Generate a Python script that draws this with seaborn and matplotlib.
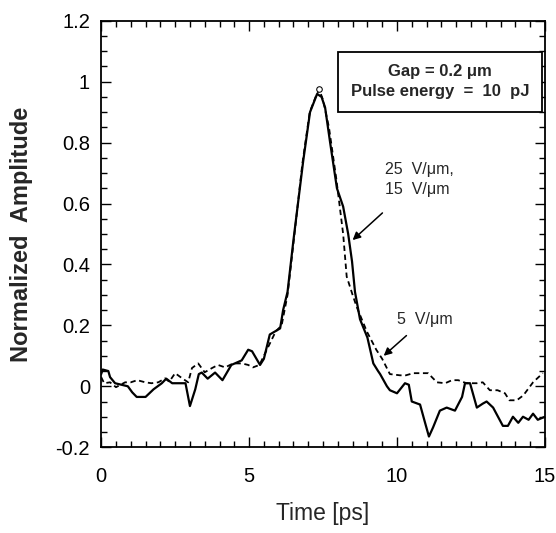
import numpy as np
import pandas as pd
import matplotlib
matplotlib.use("Agg")
import matplotlib.pyplot as plt
from matplotlib.ticker import MultipleLocator
import seaborn as sns

# Solid trace
t_solid = [0.0, 0.05, 0.24, 0.3, 0.47, 0.9, 1.05, 1.2, 1.5, 1.77, 2.05, 2.2, 2.4, 2.6, 2.85,
           3.0, 3.18, 3.3, 3.4, 3.6, 3.85, 4.1, 4.4, 4.75, 4.97, 5.1, 5.37, 5.5, 5.7, 6.05,
           6.15, 6.3, 6.5, 6.83, 7.06, 7.3, 7.45, 7.57, 7.74, 7.97, 8.18, 8.35, 8.48, 8.58, 8.75,
           9.0, 9.2, 9.36, 9.43, 9.66, 9.76, 10.0, 10.27, 10.4, 10.5, 10.78, 10.95, 11.08, 11.22, 11.45,
           11.68, 11.96, 12.2, 12.3, 12.47, 12.7, 12.9, 13.03, 13.25, 13.58, 13.75, 13.92, 14.1, 14.26, 14.45,
           14.6, 14.76, 15.0]
v_solid = [0.04, 0.055, 0.05, 0.03, 0.01, 0.0, -0.02, -0.035, -0.035, -0.01, 0.01, 0.025, 0.01, 0.01, 0.01,
           -0.065, -0.01, 0.04, 0.045, 0.025, 0.045, 0.02, 0.07, 0.085, 0.12, 0.115, 0.07, 0.09, 0.17, 0.19,
           0.25, 0.31, 0.48, 0.74, 0.9, 0.96, 0.95, 0.915, 0.8, 0.65, 0.59, 0.5, 0.41, 0.31, 0.22,
           0.16, 0.075, 0.05, 0.04, 0.0, -0.013, -0.023, 0.01, 0.005, -0.05, -0.06, -0.12, -0.165, -0.135, -0.08,
           -0.07, -0.08, -0.035, 0.01, 0.01, -0.07, -0.057, -0.05, -0.07, -0.13, -0.13, -0.1, -0.12, -0.1, -0.11,
           -0.09, -0.11, -0.1]

# Dashed trace
t_dash = [0.0, 0.1, 0.3, 0.5, 0.81, 1.0, 1.22, 1.49, 1.7, 1.93, 2.16, 2.3, 2.5, 2.74, 2.94,
          3.07, 3.28, 3.5, 3.75, 3.95, 4.19, 4.46, 4.76, 4.97, 5.13, 5.35, 5.6, 5.9, 6.1, 6.3,
          6.5, 6.8, 7.05, 7.25, 7.37, 7.5, 7.7, 7.95, 8.18, 8.3, 8.5, 8.64, 8.98, 9.3, 9.5,
          9.76, 10.1, 10.3, 10.55, 11.05, 11.35, 11.63, 11.86, 12.07, 12.35, 12.7, 12.9, 13.14, 13.4, 13.65,
          13.8, 14.05, 14.27, 14.6, 14.93]
v_dash = [0.03, 0.01, 0.013, -0.003, 0.013, 0.013, 0.02, 0.013, 0.01, 0.013, 0.026, 0.015, 0.043, 0.026, 0.013,
          0.06, 0.075, 0.046, 0.06, 0.07, 0.062, 0.075, 0.075, 0.07, 0.062, 0.07, 0.12, 0.18, 0.2, 0.3,
          0.47, 0.73, 0.9, 0.95, 0.975, 0.94, 0.85, 0.68, 0.5, 0.36, 0.3, 0.26, 0.18, 0.12, 0.09,
          0.04, 0.036, 0.036, 0.043, 0.043, 0.013, 0.01, 0.02, 0.02, 0.01, 0.01, 0.013, -0.013, -0.013, -0.023,
          -0.046, -0.046, -0.03, 0.013, 0.043]

x_ticks = [0, 5, 10, 15]
y_ticks = [-0.2, 0, 0.2, 0.4, 0.6, 0.8, 1, 1.2]
y_tick_labels = ["-0.2", "0", "0.2", "0.4", "0.6", "0.8", "1", "1.2"]

sns.set_theme(style="ticks")
plt.rcParams["font.family"] = ["Liberation Sans", "DejaVu Sans"]

df_s = pd.DataFrame({"t": t_solid, "v": v_solid})
df_d = pd.DataFrame({"t": t_dash, "v": v_dash})

fig = plt.figure(figsize=(5.56, 5.33), dpi=100)
ax = fig.add_axes([0.182, 0.161, 0.798, 0.800])

sns.lineplot(data=df_d, x="t", y="v", ax=ax, sort=False, color="black", lw=1.3,
             linestyle=(0, (3, 2)), marker="o", markevery=[34], markersize=4,
             markerfacecolor="white", markeredgecolor="black")
sns.lineplot(data=df_s, x="t", y="v", ax=ax, sort=False, color="black", lw=1.6)

ax.set_xlim(0, 15)
ax.set_ylim(-0.2, 1.2)
ax.set_xticks(x_ticks)
ax.set_xticklabels([str(v) for v in x_ticks])
ax.set_yticks(y_ticks)
ax.set_yticklabels(y_tick_labels)
ax.xaxis.set_minor_locator(MultipleLocator(0.5))
ax.yaxis.set_minor_locator(MultipleLocator(0.05))
ax.tick_params(which="both", direction="in", top=True, right=True, colors="black",
               labelsize=14.5, width=1.0)
ax.tick_params(axis="x", which="major", pad=14)
ax.tick_params(axis="y", which="major", pad=8)
ax.tick_params(which="major", length=7)
ax.tick_params(which="minor", length=4)
for sp in ax.spines.values():
    sp.set_visible(True)
    sp.set_linewidth(1.3)
    sp.set_color("black")

ax.set_xlabel("Time [ps]", fontsize=16.5, labelpad=12)
ax.set_ylabel("Normalized  Amplitude", fontsize=17, fontweight="bold", labelpad=16)

ax.text(11.45, 1.0, "Gap = 0.2 μm\nPulse energy  =  10  pJ", ha="center", va="center",
        fontsize=12, fontweight="bold", linespacing=1.45,
        bbox=dict(boxstyle="square,pad=0.75", fc="white", ec="black", lw=1.3))

ax.annotate("25  V/μm,\n15  V/μm", xy=(8.5, 0.48), xytext=(9.6, 0.68),
            fontsize=11.5, ha="left", va="center", linespacing=1.4,
            arrowprops=dict(arrowstyle="-|>", color="black", lw=1.1, shrinkA=14, shrinkB=0))
ax.annotate("5  V/μm", xy=(9.55, 0.1), xytext=(10.0, 0.22),
            fontsize=11.5, ha="left", va="center",
            arrowprops=dict(arrowstyle="-|>", color="black", lw=1.1, shrinkA=6, shrinkB=0))

fig.savefig("out.png", dpi=100)
